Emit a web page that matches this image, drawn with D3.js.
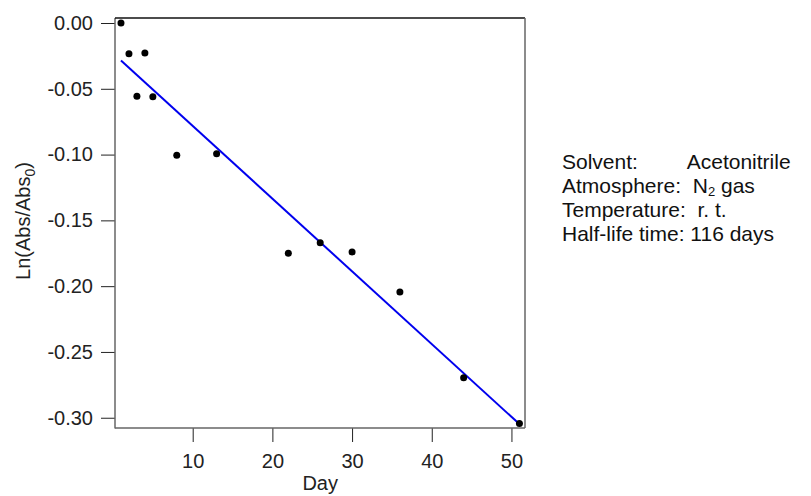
<!DOCTYPE html>
<html>
<head>
<meta charset="utf-8">
<script src="https://cdn.jsdelivr.net/npm/d3@7"></script>
<style>
  html, body { margin: 0; padding: 0; background: #fff; }
  svg { display: block; font-family: Arial, "Liberation Sans", sans-serif; }
</style>
</head>
<body>
<svg id="chart" width="811" height="496"></svg>
<script>
// Absorbance decay measurements (natural log of Abs/Abs0 vs. day)
const days = [1, 2, 3, 4, 5, 8, 13, 22, 26, 30, 36, 44, 51];
const lnRatio = [0, -0.0233, -0.0557, -0.0228, -0.056, -0.1006, -0.0993,
                 -0.175, -0.167, -0.174, -0.2045, -0.2696, -0.3043];
const xTicks = [10, 20, 30, 40, 50];
const yTicks = [0, -0.05, -0.10, -0.15, -0.20, -0.25, -0.30];
const infoLabels = ["Solvent:", "Atmosphere:", "Temperature:", "Half-life time:"];
const infoValues = ["Acetonitrile", "N|2| gas", "r. t.", "116 days"];

const svg = d3.select("#chart");
const plot = { left: 115, top: 18, right: 525, bottom: 428 };

const x = d3.scaleLinear().domain([0.25, 51.7]).range([plot.left, plot.right]);
const y = d3.scaleLinear().domain([-0.3078, 0.0038]).range([plot.bottom, plot.top]);

const fmt = d3.formatLocale({ decimal: ".", thousands: ",", grouping: [3], currency: ["", ""], minus: "-" }).format(".2f");

// Least-squares fit of ln(Abs/Abs0) against day
const n = days.length;
const mx = d3.mean(days), my = d3.mean(lnRatio);
let sxy = 0, sxx = 0;
for (let i = 0; i < n; i++) {
  sxy += (days[i] - mx) * (lnRatio[i] - my);
  sxx += (days[i] - mx) ** 2;
}
const slope = sxy / sxx;
const intercept = my - slope * mx;
const fitDays = [d3.min(days), d3.max(days)];

// Axes
const yAxis = svg.append("g")
  .attr("transform", `translate(${plot.left},0)`)
  .call(d3.axisLeft(y).tickValues(yTicks).tickFormat(fmt).tickSize(14).tickPadding(8));
const xAxis = svg.append("g")
  .attr("transform", `translate(0,${plot.bottom})`)
  .call(d3.axisBottom(x).tickValues(xTicks).tickSize(14).tickPadding(12));

[yAxis, xAxis].forEach(g => {
  g.select(".domain").remove();
  g.selectAll(".tick line").attr("stroke", "#222").attr("stroke-width", 1);
  g.selectAll(".tick text").attr("fill", "#222").style("font-size", "20px")
    .style("font-family", "Arial, 'Liberation Sans', sans-serif");
});

// Frame: left/bottom/right lines grey, top darker
svg.append("line").attr("x1", plot.left).attr("x2", plot.left)
  .attr("y1", plot.top).attr("y2", plot.bottom + 0.5).attr("stroke", "#666").attr("stroke-width", 1.5);
svg.append("line").attr("x1", plot.left).attr("x2", plot.right)
  .attr("y1", plot.bottom).attr("y2", plot.bottom).attr("stroke", "#666").attr("stroke-width", 1.5);
svg.append("line").attr("x1", plot.left).attr("x2", plot.right)
  .attr("y1", plot.top).attr("y2", plot.top).attr("stroke", "#111").attr("stroke-width", 1.5);
svg.append("line").attr("x1", plot.right).attr("x2", plot.right)
  .attr("y1", plot.top).attr("y2", plot.bottom).attr("stroke", "#666").attr("stroke-width", 1.5);

// Fit line
svg.append("line")
  .attr("x1", x(fitDays[0])).attr("y1", y(intercept + slope * fitDays[0]))
  .attr("x2", x(fitDays[1])).attr("y2", y(intercept + slope * fitDays[1]))
  .attr("stroke", "#0000ee").attr("stroke-width", 2);

// Data points
svg.append("g").selectAll("circle")
  .data(days.map((d, i) => [d, lnRatio[i]]))
  .join("circle")
  .attr("cx", d => x(d[0])).attr("cy", d => y(d[1]))
  .attr("r", 3.5).attr("fill", "#000");

// Axis titles
svg.append("text")
  .attr("x", x(26)).attr("y", 490)
  .attr("text-anchor", "middle").attr("fill", "#222").style("font-size", "20px")
  .text("Day");

const yTitle = svg.append("text")
  .attr("transform", `translate(30,${(plot.top + plot.bottom) / 2 - 2}) rotate(-90)`)
  .attr("text-anchor", "middle").attr("fill", "#222").style("font-size", "20px");
yTitle.append("tspan").text("Ln(Abs/Abs");
yTitle.append("tspan").attr("dy", 5).style("font-size", "14px").text("0");
yTitle.append("tspan").attr("dy", -5).text(")");

// Conditions text block
const infoFont = 21;
const lineH = 24, base0 = 169, infoX = 562;
const info = svg.append("g");
const gaps = [null, 2, 2, 1];           // spaces after the label
const valueStart = [];
infoLabels.forEach((lab, i) => {
  const t = info.append("text").attr("x", infoX).attr("y", base0 + i * lineH)
    .attr("fill", "#111").style("font-size", infoFont + "px").text(lab);
  const w = t.node().getComputedTextLength();
  valueStart.push(gaps[i] === null ? null : infoX + w + gaps[i] * 0.278 * infoFont);
});
// solvent name lines up a little left of the atmosphere value
valueStart[0] = valueStart[1] - 6;
infoValues.forEach((val, i) => {
  const t = info.append("text").attr("x", valueStart[i]).attr("y", base0 + i * lineH)
    .attr("fill", "#111").style("font-size", infoFont + "px");
  const parts = val.split("|");
  if (parts.length === 3) {
    t.append("tspan").text(parts[0]);
    t.append("tspan").attr("dy", 3).style("font-size", "13px").text(parts[1]);
    t.append("tspan").attr("dy", -3).text(parts[2]);
  } else {
    t.text(val);
  }
});
</script>
</body>
</html>
